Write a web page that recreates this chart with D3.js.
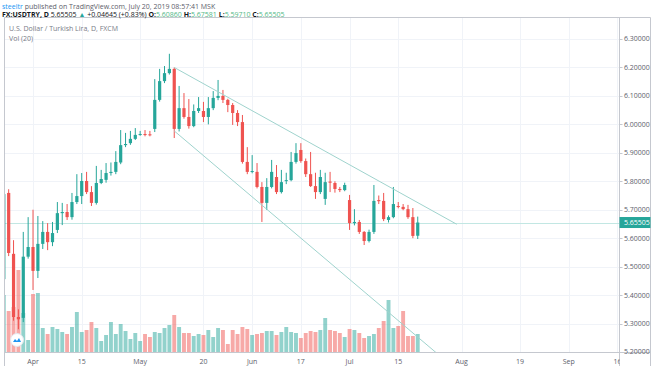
<!DOCTYPE html>
<html><head><meta charset="utf-8">
<script src="https://cdn.jsdelivr.net/npm/d3@7"></script>
<style>body{margin:0;background:#fff;} svg{display:block;font-family:'Open Sans',sans-serif;}</style>
</head><body><svg id="c" width="654" height="366"></svg>
<script>
const dates = [
"2019-03-22",
"2019-03-25","2019-03-26","2019-03-27","2019-03-28","2019-03-29",
"2019-04-01","2019-04-02","2019-04-03","2019-04-04","2019-04-05",
"2019-04-08","2019-04-09","2019-04-10","2019-04-11","2019-04-12",
"2019-04-15","2019-04-16","2019-04-17","2019-04-18","2019-04-19",
"2019-04-22","2019-04-23","2019-04-24","2019-04-25","2019-04-26",
"2019-04-29","2019-04-30","2019-05-01","2019-05-02","2019-05-03",
"2019-05-06","2019-05-07","2019-05-08","2019-05-09","2019-05-10",
"2019-05-13","2019-05-14","2019-05-15","2019-05-16","2019-05-17",
"2019-05-20","2019-05-21","2019-05-22","2019-05-23","2019-05-24",
"2019-05-27","2019-05-28","2019-05-29","2019-05-30","2019-05-31",
"2019-06-03","2019-06-04","2019-06-05","2019-06-06","2019-06-07",
"2019-06-10","2019-06-11","2019-06-12","2019-06-13","2019-06-14",
"2019-06-17","2019-06-18","2019-06-19","2019-06-20","2019-06-21",
"2019-06-24","2019-06-25","2019-06-26","2019-06-27","2019-06-28",
"2019-07-01","2019-07-02","2019-07-03","2019-07-04","2019-07-05",
"2019-07-08","2019-07-09","2019-07-10","2019-07-11","2019-07-12",
"2019-07-15","2019-07-16","2019-07-17","2019-07-18","2019-07-19"];
const opens = [5.456,
5.759,5.545,5.323,5.320,5.535,
5.569,5.485,5.580,5.622,5.586,
5.629,5.688,5.692,5.674,5.727,
5.748,5.801,5.762,5.724,5.794,
5.805,5.829,5.833,5.866,5.927,
5.934,5.949,5.963,5.966,5.965,
5.984,6.086,6.152,6.180,6.195,
5.984,6.057,6.026,5.994,6.047,
6.047,6.026,6.057,6.093,6.100,
6.086,6.068,6.040,6.008,5.868,
5.833,5.833,5.780,5.724,5.780,
5.815,5.762,5.801,5.804,5.868,
5.910,5.871,5.825,5.783,5.762,
5.738,5.799,5.794,5.773,5.769,
5.734,5.653,5.657,5.622,5.590,
5.622,5.734,5.731,5.664,5.674,
5.713,5.710,5.702,5.674,5.6086];
const highs = [5.765,
5.772,5.593,5.350,5.622,5.674,
5.700,5.678,5.660,5.653,5.657,
5.727,5.724,5.720,5.759,5.825,
5.829,5.833,5.783,5.854,5.840,
5.864,5.866,5.906,5.980,5.970,
5.977,5.987,5.977,5.980,5.977,
6.159,6.195,6.205,6.248,6.200,
6.135,6.110,6.089,6.070,6.096,
6.079,6.096,6.117,6.156,6.121,
6.090,6.075,6.050,6.033,5.920,
5.892,5.864,5.797,5.811,5.875,
5.857,5.840,5.830,5.903,5.934,
5.934,5.880,5.903,5.830,5.840,
5.830,5.833,5.800,5.780,5.795,
5.752,5.702,5.664,5.625,5.630,
5.787,5.750,5.759,5.680,5.780,
5.727,5.720,5.717,5.706,5.67581];
const lows = [5.445,
5.537,5.310,5.280,5.305,5.528,
5.418,5.460,5.562,5.558,5.572,
5.618,5.646,5.664,5.665,5.720,
5.720,5.755,5.713,5.718,5.790,
5.795,5.820,5.825,5.860,5.920,
5.928,5.945,5.960,5.958,5.958,
5.973,6.080,6.145,6.175,5.952,
5.975,6.020,5.985,5.990,6.040,
6.008,6.000,6.050,6.085,6.075,
6.043,5.998,5.994,5.862,5.825,
5.828,5.775,5.657,5.699,5.775,
5.755,5.757,5.790,5.800,5.862,
5.865,5.815,5.780,5.738,5.755,
5.717,5.762,5.760,5.762,5.765,
5.629,5.645,5.615,5.576,5.585,
5.615,5.720,5.660,5.655,5.670,
5.705,5.698,5.668,5.600,5.5971];
const closes = [5.755,
5.548,5.323,5.315,5.535,5.569,
5.485,5.580,5.622,5.586,5.618,
5.688,5.692,5.674,5.727,5.748,
5.801,5.762,5.724,5.794,5.808,
5.829,5.833,5.868,5.927,5.931,
5.949,5.963,5.966,5.963,5.962,
6.086,6.152,6.180,6.195,5.984,
6.057,6.026,5.994,6.047,6.057,
6.026,6.057,6.093,6.100,6.086,
6.068,6.040,6.008,5.868,5.833,
5.836,5.780,5.724,5.780,5.833,
5.762,5.797,5.804,5.868,5.899,
5.871,5.825,5.783,5.762,5.815,
5.797,5.795,5.773,5.769,5.787,
5.653,5.657,5.622,5.590,5.622,
5.731,5.730,5.667,5.674,5.720,
5.710,5.702,5.674,5.608,5.65505];
const volumes = [57,
41,45,82,39,12,
58,59,24,18,25,
23,20,18,25,40,
20,22,30,24,11,
17,30,18,28,21,
13,19,11,18,15,
20,19,24,27,37,
25,19,19,16,18,
17,22,15,24,22,
8,22,18,25,23,
17,18,19,21,21,
17,20,25,20,19,
14,19,21,20,22,
34,22,21,19,15,
23,22,19,14,16,
18,24,31,52,24,
26,41,16,16,18];
const priceTicks = [5.2,5.3,5.4,5.5,5.6,5.7,5.8,5.9,6.0,6.1,6.2,6.3];
const timeTickDates = ["2019-04-01","2019-04-15","2019-05-01","2019-05-20","2019-06-03","2019-06-17","2019-07-01","2019-07-15","2019-08-01","2019-08-19","2019-09-02","2019-09-16"];
const timeTickLabels = ["Apr","15","May","20","Jun","17","Jul","15","Aug","19","Sep","16"];
const lastPrice = 5.65505;
const upperTrendDates = ["2019-05-10","2019-07-31"];
const upperTrendPrices = [6.200,5.649];
const lowerTrendDates = ["2019-05-10","2019-07-26"];
const lowerTrendPrices = [5.977,5.180];

const UP = "#26a69a", DOWN = "#ef5350";
const svg = d3.select("#c");
const L = 4.5, R = 619.5, T = 17.5, B = 352.5, FR = 650.5;

const fmt = d3.utcFormat("%Y-%m-%d");
const days = d3.utcDay.range(new Date(Date.UTC(2019,2,22)), new Date(Date.UTC(2019,8,17)))
  .filter(d => d.getUTCDay() % 6 !== 0).map(fmt);
const x = d3.scalePoint().domain(days).range([3.8, 617.4]);
const step = x.step();
const y = d3.scaleLinear().domain([5.2, 6.3]).range([352, 39]);
const vy = d3.scaleLinear().domain([0, 82]).range([352, 270]);

const defs = svg.append("defs");
defs.append("clipPath").attr("id","pane").append("rect").attr("x",L).attr("y",T).attr("width",R-L).attr("height",B-T);
defs.append("clipPath").attr("id","xaxis").append("rect").attr("x",L).attr("y",B).attr("width",R-L).attr("height",20);
defs.append("clipPath").attr("id","yaxis").append("rect").attr("x",R).attr("y",T).attr("width",40).attr("height",B-T+4);

const grid = svg.append("g").attr("clip-path","url(#pane)");
grid.selectAll("line.h").data(priceTicks).join("line")
  .attr("x1",L).attr("x2",R).attr("y1",d=>Math.round(y(d))+0.5).attr("y2",d=>Math.round(y(d))+0.5)
  .attr("stroke","#f0f3f8").attr("stroke-width",1);
grid.selectAll("line.v").data(timeTickDates).join("line")
  .attr("y1",T).attr("y2",B).attr("x1",d=>Math.round(x(d))+0.5).attr("x2",d=>Math.round(x(d))+0.5)
  .attr("stroke","#f0f3f8").attr("stroke-width",1);

const pane = svg.append("g").attr("clip-path","url(#pane)");
const data = dates.map((d,i)=>({d, o:opens[i], h:highs[i], l:lows[i], c:closes[i], v:volumes[i]}));

pane.selectAll("rect.vol").data(data).join("rect")
  .attr("x", d => x(d.d) - step*0.4).attr("width", step*0.8)
  .attr("y", d => vy(d.v)).attr("height", d => vy(0) - vy(d.v))
  .attr("fill", d => d.c >= d.o ? UP : DOWN).attr("fill-opacity", 0.5);

pane.append("line").attr("x1",L).attr("x2",R).attr("y1",Math.round(y(lastPrice))+0.5).attr("y2",Math.round(y(lastPrice))+0.5)
  .attr("stroke","#c2e7e3").attr("stroke-width",1);

pane.selectAll("line.wick").data(data).join("line")
  .attr("x1", d => x(d.d)).attr("x2", d => x(d.d))
  .attr("y1", d => y(d.h)).attr("y2", d => y(d.l))
  .attr("stroke", d => d.c >= d.o ? UP : DOWN).attr("stroke-width", 1);
pane.selectAll("rect.body").data(data).join("rect")
  .attr("x", d => x(d.d) - 1.6).attr("width", 3.2)
  .attr("y", d => Math.min(y(d.o), y(d.c)))
  .attr("height", d => Math.max(1, Math.abs(y(d.o) - y(d.c))))
  .attr("fill", d => d.c >= d.o ? UP : DOWN);

const tl = d3.line().x(p=>x(p[0])).y(p=>y(p[1]));
pane.append("path").attr("d", tl(upperTrendDates.map((d,i)=>[d,upperTrendPrices[i]])))
  .attr("fill","none").attr("stroke","#9fd3cd").attr("stroke-width",1);
pane.append("path").attr("d", tl(lowerTrendDates.map((d,i)=>[d,lowerTrendPrices[i]])))
  .attr("fill","none").attr("stroke","#9fd3cd").attr("stroke-width",1);

const logo = svg.append("g").attr("transform","translate(17,340)");
logo.append("circle").attr("r",6.5).attr("fill","#fff").attr("stroke","#e3e6ec");
logo.append("path").attr("d","M-4,2 L-2,-1 L0,1 L2,-2 L4,2 Z").attr("fill","#2196f3");

svg.append("path").attr("d",`M${L},366 V${T} H${FR} V366`).attr("fill","none").attr("stroke","#c5c8cf");
svg.append("line").attr("x1",R).attr("x2",R).attr("y1",T).attr("y2",366).attr("stroke","#c5c8cf");
svg.append("line").attr("x1",L).attr("x2",FR).attr("y1",B).attr("y2",B).attr("stroke","#c5c8cf");

const ya = svg.append("g").attr("clip-path","url(#yaxis)");
ya.selectAll("line").data(priceTicks).join("line")
  .attr("x1",R).attr("x2",R+3).attr("y1",d=>Math.round(y(d))+0.5).attr("y2",d=>Math.round(y(d))+0.5).attr("stroke","#c5c8cf");
ya.selectAll("text").data(priceTicks).join("text")
  .attr("x",R+4.5).attr("y",d=>y(d)).attr("dy","0.35em")
  .attr("font-size",7).attr("fill","#5d606b").text(d=>d.toFixed(5));

svg.append("rect").attr("x",R).attr("y",y(lastPrice)-5.5).attr("width",FR-R).attr("height",11).attr("fill",UP);
svg.append("text").attr("x",R+4.5).attr("y",y(lastPrice)).attr("dy","0.35em").attr("font-size",7)
  .attr("fill","#fff").text(lastPrice.toFixed(5));

const xa = svg.append("g").attr("clip-path","url(#xaxis)");
xa.selectAll("text").data(timeTickDates).join("text")
  .attr("x",d=>x(d)).attr("y",363.5).attr("text-anchor","middle")
  .attr("font-size",7).attr("fill","#5d606b").text((d,i)=>timeTickLabels[i]);

const h1 = svg.append("text").attr("x",2).attr("y",8.5).attr("font-size",7).attr("fill","#5d606b");
h1.append("tspan").attr("fill","#2196f3").text("steeltr");
h1.append("tspan").text(" published on TradingView.com, July 20, 2019 08:57:41 MSK");
const h2 = svg.append("text").attr("x",2).attr("y",16.5).attr("font-size",7).attr("fill","#131722");
h2.append("tspan").attr("font-weight","bold").text("FX:USDTRY, D ");
h2.append("tspan").text("5.65505 ");
h2.append("tspan").attr("fill","#26a69a").text("▲ ");
h2.append("tspan").text("+0.04645 (+0.83%) ");
const ohlc = [["O:", opens[85]],["H:", highs[85]],["L:", lows[85]],["C:", closes[85]]];
ohlc.forEach(([k,v])=>{
  h2.append("tspan").attr("font-weight","bold").text(k);
  h2.append("tspan").attr("fill","#53b987").text(v.toFixed(5)+" ");
});
svg.append("text").attr("x",9).attr("y",31).attr("font-size",7).attr("fill","#787b86").text("U.S. Dollar / Turkish Lira, D, FXCM");
svg.append("text").attr("x",9).attr("y",41).attr("font-size",7).attr("fill","#787b86").text("Vol (20)");
</script></body></html>
